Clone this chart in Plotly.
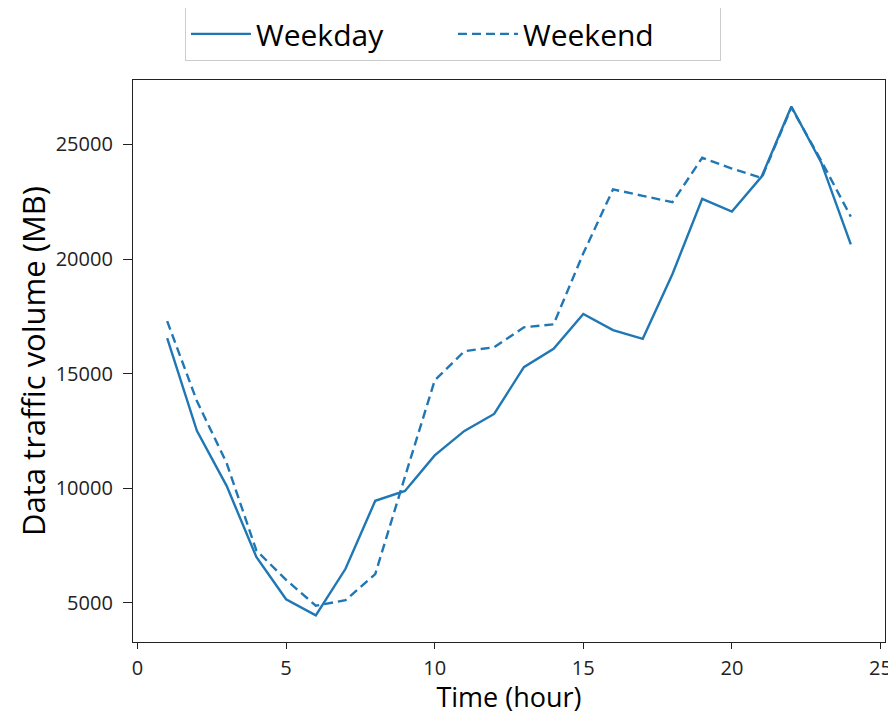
import plotly.graph_objects as go

# hourly traffic (MB)
hours = list(range(1, 25))
weekday = [16550, 12500, 10100, 7000, 5150, 4450, 6480, 9450, 9880, 11430, 12500, 13240,
           15280, 16080, 17600, 16900, 16520, 19350, 22630, 22070, 23600, 26660, 24230, 20640]
weekend = [17290, 13800, 11100, 7280, 6000, 4870, 5110, 6250, 10500, 14700, 15980, 16150,
           17020, 17150, 20250, 23040, 22760, 22480, 24420, 23950, 23540, 26620, 24300, 21850]

x_ticks = [0, 5, 10, 15, 20, 25]
y_ticks = [5000, 10000, 15000, 20000, 25000]
y_labels = ['5000', '10000', '15000', '20000', '25000']

blue = '#1f77b4'

fig = go.Figure()
fig.add_trace(go.Scatter(x=hours, y=weekday, mode='lines', name='Weekday',
                         line=dict(color=blue, width=2.4)))
fig.add_trace(go.Scatter(x=hours, y=weekend, mode='lines', name='Weekend',
                         line=dict(color=blue, width=2.4, dash='9px,5px')))

axis_style = dict(showline=True, linecolor='#222222', linewidth=1.3, mirror=True,
                  showgrid=False, zeroline=False, ticks='outside',
                  tickcolor='#222222', tickfont=dict(size=20, color='#222222'))

fig.update_xaxes(range=[-0.15, 25.15], tickvals=x_ticks, ticklen=6, ticklabelstandoff=2,
                 title=dict(text='Time (hour)', font=dict(size=27, color='black'), standoff=4),
                 **axis_style)
fig.update_yaxes(range=[3285, 27815], tickvals=y_ticks, ticktext=y_labels,
                 ticklen=9, ticklabelstandoff=6,
                 title=dict(text='Data traffic volume (MB)', font=dict(size=31, color='black'), standoff=0),
                 **axis_style)

fig.update_layout(
    width=886, height=707,
    margin=dict(l=125, r=9, t=72, b=73, autoexpand=False),
    plot_bgcolor='white', paper_bgcolor='white',
    font=dict(family='Open Sans', color='black'),
    legend=dict(orientation='h', x=0.4255, xanchor='center', y=1.082, yanchor='middle',
                font=dict(size=30), bordercolor='#cccccc', borderwidth=1,
                itemwidth=60, entrywidth=192, bgcolor='white'),
)

fig.write_html('out.html')
